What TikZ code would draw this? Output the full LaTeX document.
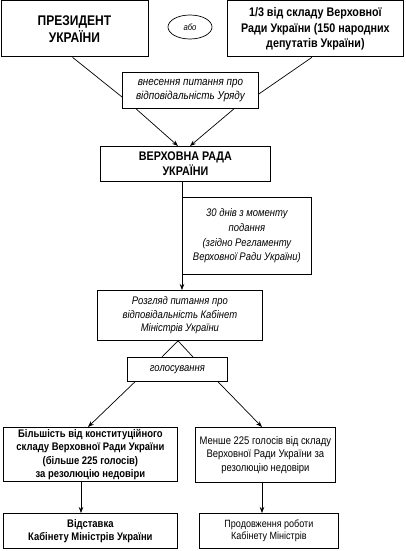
\documentclass[tikz,border=0pt]{standalone}
\usepackage{fontspec}
\setmainfont{Liberation Sans}[FakeStretch=0.86]
\usetikzlibrary{arrows.meta,calc,shapes.geometric}
\begin{document}
\begin{tikzpicture}[x=1pt,y=-1pt,
  box/.style={draw,line width=0.8pt,inner sep=0pt,align=center,anchor=north west},
  ln/.style={line width=0.7pt},
  arr/.style={line width=0.7pt,-{Stealth[length=6pt,width=4.5pt]}},
  bigb/.style={font=\fontsize{14}{17}\selectfont\bfseries},
  midb/.style={font=\fontsize{12.5}{15.5}\selectfont\bfseries},
  smb/.style={font=\fontsize{11}{13.4}\selectfont\bfseries},
  smi/.style={font=\fontsize{11}{14}\selectfont\itshape},
  smr/.style={font=\fontsize{11}{13.5}\selectfont}]
\useasboundingbox (0,0) rectangle (405,551);
\fill[white] (0,0) rectangle (405,551);
\node[box,bigb,minimum width=147pt,minimum height=56pt] (pres) at (0.5,0.5) {ПРЕЗИДЕНТ\\УКРАЇНИ};
\node[draw,ellipse,line width=0.7pt,minimum width=44pt,minimum height=24pt,inner sep=0pt,font=\fontsize{9}{10}\selectfont\itshape] (abo) at (190,27) {або};
\node[box,midb,minimum width=176pt,minimum height=56pt] (thr) at (227,0.5) {1/3 від складу Верховної\\Ради України (150 народних\\депутатів України)};
\node[box,font=\fontsize{11.5}{14.5}\selectfont\itshape,minimum width=136pt,minimum height=36pt] (vn) at (122,72) {внесення питання про\\відповідальність Уряду};
\node[box,font=\fontsize{12.5}{15}\selectfont\bfseries,minimum width=170pt,minimum height=35pt] (vr) at (100,146) {ВЕРХОВНА РАДА\\УКРАЇНИ};
\node[box,font=\fontsize{11}{14.7}\selectfont\itshape,minimum width=129pt,minimum height=77pt] (d30) at (182,197) {30 днів з моменту\\подання\\(згідно Регламенту\\Верховної Ради України)};
\node[box,font=\fontsize{11}{13.5}\selectfont\itshape,minimum width=165pt,minimum height=50pt] (roz) at (97,290) {Розгляд питання про\\відповідальність Кабінет\\Міністрів України};
\node[box,smi,minimum width=100pt,minimum height=24pt] (hol) at (127,357) {голосування};
\node[box,smb,minimum width=174pt,minimum height=54pt] (lm) at (3,427) {Більшість від конституційного\\складу Верховної Ради України\\(більше 225 голосів)\\за резолюцію недовіри};
\node[box,smr,minimum width=140pt,minimum height=55pt] (rm) at (195,427) {Менше 225 голосів від складу\\Верховної Ради України за\\резолюцію недовіри};
\node[box,smb,minimum width=174pt,minimum height=35pt] (bl) at (3,513) {Відставка\\Кабінету Міністрів України};
\node[box,font=\fontsize{10.5}{12}\selectfont,minimum width=139pt,minimum height=35pt] (br) at (199,513) {Продовження роботи\\Кабінету Міністрів};
\draw[ln] ($(pres.south west)+(72,0)$) -- ($(vn.north west)+(0,25)$);
\draw[ln] ($(thr.south west)+(85,0)$) -- ($(vn.north east)+(0,22)$);
\draw[arr] ($(vn.south west)+(14,0)$) -- ($(vr.north west)+(78,0)$);
\draw[arr] ($(vn.south west)+(112,0)$) -- ($(vr.north west)+(90,0)$);
\draw[arr] ($(vr.south west)+(82,0)$) -- ($(roz.north west)+(85,0)$);
\draw[ln] ($(roz.south west)+(81,0)$) -- ($(hol.north west)+(35,0)$);
\draw[ln] ($(roz.south west)+(81,0)$) -- ($(hol.north west)+(66,0)$);
\draw[arr] ($(hol.south west)+(8,0)$) -- ($(lm.north west)+(85,0)$);
\draw[arr] ($(hol.south west)+(91,0)$) -- ($(rm.north west)+(67,0)$);
\draw[arr] ($(lm.south west)+(78,0)$) -- ($(bl.north west)+(78,0)$);
\draw[arr] ($(rm.south west)+(67,0)$) -- ($(br.north west)+(63,0)$);
\end{tikzpicture}
\end{document}
